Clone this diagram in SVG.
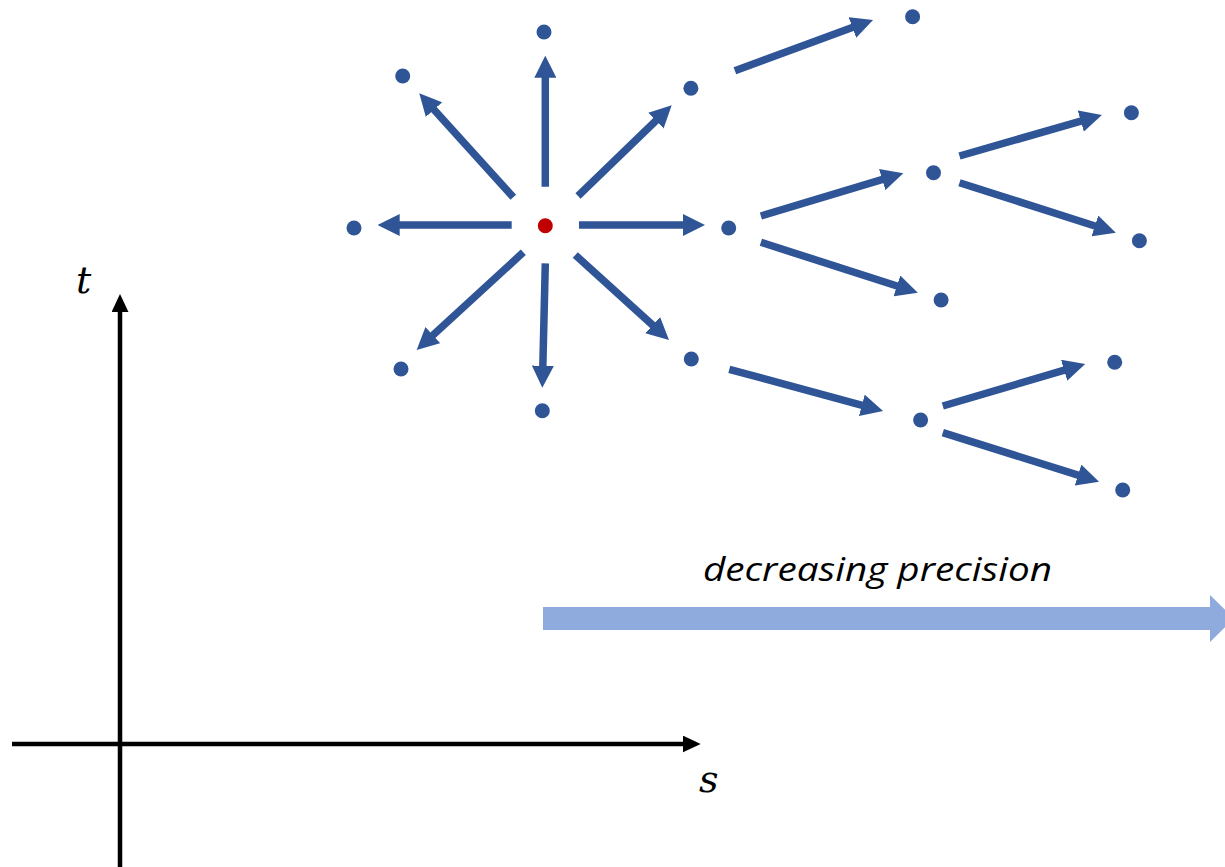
<svg xmlns="http://www.w3.org/2000/svg" width="1225" height="867" viewBox="0 0 1225 867">
<style>
.a{stroke:#2F5597;stroke-width:7.5;fill:none;marker-end:url(#hb)}
.ax{stroke:#000;stroke-width:4.5;fill:none;marker-end:url(#hk)}
.d{fill:#2F5597}
.lbl{font-family:"DejaVu Serif",serif;font-style:italic;font-size:38px;fill:#000}
</style>
<defs>
<marker id="hb" markerUnits="userSpaceOnUse" markerWidth="22" markerHeight="22" refX="10" refY="11" orient="auto" viewBox="0 0 22 22"><path d="M0,0 L22,11 L0,22 z" fill="#2F5597"/></marker>
<marker id="hk" markerUnits="userSpaceOnUse" markerWidth="18" markerHeight="17" refX="9" refY="8.5" orient="auto" viewBox="0 0 18 17"><path d="M0,0 L18,8.5 L0,17 z" fill="#000"/></marker>
</defs>
<rect width="1225" height="867" fill="#fff"/>
<g id="axes">
<line class="ax" x1="120" y1="867" x2="120" y2="303"/>
<line class="ax" x1="12" y1="744" x2="691.7" y2="744"/>
<text class="lbl" x="76" y="293">t</text>
<text class="lbl" x="699" y="792">s</text>
</g>
<g id="precision">
<polygon points="543,607 1210,607 1210,595 1234,618.5 1210,642 1210,630 543,630" fill="#8FAADC"/>
<text x="877.5" y="581" text-anchor="middle" font-family="'Open Sans',sans-serif" font-style="italic" font-size="32" textLength="349" lengthAdjust="spacingAndGlyphs" fill="#000">decreasing precision</text>
</g>
<g id="connectors">
<line class="a" x1="545.3" y1="186.7" x2="545.3" y2="67.7"/>
<line class="a" x1="513.3" y1="197.3" x2="427.3" y2="102.2"/>
<line class="a" x1="511.7" y1="225" x2="389.7" y2="225"/>
<line class="a" x1="579" y1="225" x2="693" y2="225"/>
<line class="a" x1="578" y1="196" x2="663.1" y2="113.7"/>
<line class="a" x1="523.3" y1="252.3" x2="425.5" y2="341.9"/>
<line class="a" x1="545.3" y1="263.3" x2="542.6" y2="375.7"/>
<line class="a" x1="575.3" y1="255" x2="660.1" y2="331.9"/>
<line class="a" x1="734.9" y1="70.7" x2="861.8" y2="24.1"/>
<line class="a" x1="760.9" y1="216" x2="891.8" y2="176.7"/>
<line class="a" x1="760.9" y1="242.3" x2="906.4" y2="289"/>
<line class="a" x1="959.5" y1="156" x2="1090.4" y2="118.3"/>
<line class="a" x1="959.5" y1="182.7" x2="1104.4" y2="229"/>
<line class="a" x1="729.3" y1="369.3" x2="871.5" y2="407.9"/>
<line class="a" x1="942.8" y1="406" x2="1073.7" y2="367.4"/>
<line class="a" x1="942.8" y1="432.7" x2="1087.6" y2="478.1"/>
</g>
<g id="n-center"><circle cx="545.3" cy="225.7" r="7.5" fill="#C00000"/></g>
<g id="n-up"><circle class="d" cx="544" cy="32" r="7.5"/></g>
<g id="n-upleft"><circle class="d" cx="402.7" cy="76" r="7.5"/></g>
<g id="n-left"><circle class="d" cx="354" cy="228" r="7.5"/></g>
<g id="n-right"><circle class="d" cx="728.7" cy="228" r="7.5"/></g>
<g id="n-upright"><circle class="d" cx="690.9" cy="88.3" r="7.5"/></g>
<g id="n-downleft"><circle class="d" cx="401" cy="369" r="7.5"/></g>
<g id="n-down"><circle class="d" cx="542.3" cy="410.7" r="7.5"/></g>
<g id="n-downright"><circle class="d" cx="691.3" cy="359" r="7.5"/></g>
<g id="n-a1"><circle class="d" cx="912.6" cy="16.7" r="7.5"/></g>
<g id="n-b1"><circle class="d" cx="933.5" cy="172.7" r="7.5"/></g>
<g id="n-b2"><circle class="d" cx="941.1" cy="300" r="7.5"/></g>
<g id="n-c1"><circle class="d" cx="1131.4" cy="112.7" r="7.5"/></g>
<g id="n-c2"><circle class="d" cx="1139.4" cy="240.7" r="7.5"/></g>
<g id="n-e1"><circle class="d" cx="920.6" cy="420" r="7.5"/></g>
<g id="n-f1"><circle class="d" cx="1114.7" cy="362.3" r="7.5"/></g>
<g id="n-f2"><circle class="d" cx="1122.7" cy="490" r="7.5"/></g>
</svg>
